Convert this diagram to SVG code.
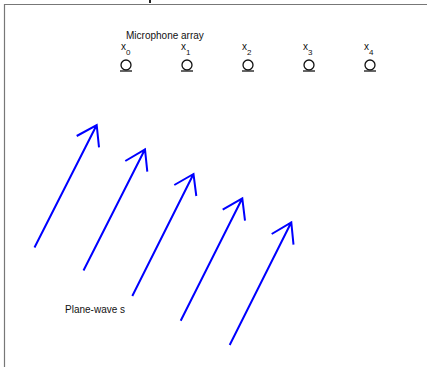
<svg xmlns="http://www.w3.org/2000/svg" width="427" height="367" viewBox="0 0 427 367">
<style>
text{font-family:"Liberation Sans",Arial,sans-serif;fill:#111}
.t{font-size:10px}
.s{font-size:8px}
.mic circle{fill:none;stroke:#111;stroke-width:1.3}
.mic line{stroke:#333;stroke-width:1.5}
.w{stroke:#0000ff;stroke-width:2;fill:none;stroke-linecap:butt}
.frame{stroke:#777;stroke-width:1.2;fill:none}
</style>
<rect width="427" height="367" fill="#fff"/>
<g id="frame">
<path class="frame" d="M4.5,367 V4.5 H427"/>
<line x1="150" y1="0" x2="150" y2="3" stroke="#222" stroke-width="2"/>
</g>
<g id="title"><text class="t" x="126" y="39">Microphone array</text></g>
<g id="mic0" class="mic"><text class="t" x="121" y="50">x</text><text class="s" x="126" y="55">0</text><circle cx="126" cy="65" r="5"/><line x1="120" y1="71" x2="132" y2="71"/></g>
<g id="mic1" class="mic"><text class="t" x="181" y="50">x</text><text class="s" x="186" y="55">1</text><circle cx="187" cy="65" r="5"/><line x1="181" y1="71" x2="193" y2="71"/></g>
<g id="mic2" class="mic"><text class="t" x="242" y="50">x</text><text class="s" x="247" y="55">2</text><circle cx="248" cy="65" r="5"/><line x1="242" y1="71" x2="254" y2="71"/></g>
<g id="mic3" class="mic"><text class="t" x="303" y="50">x</text><text class="s" x="308" y="55">3</text><circle cx="309" cy="65" r="5"/><line x1="303" y1="71" x2="315" y2="71"/></g>
<g id="mic4" class="mic"><text class="t" x="364" y="50">x</text><text class="s" x="369" y="55">4</text><circle cx="370" cy="65" r="5"/><line x1="364" y1="71" x2="376" y2="71"/></g>
<g id="label"><text class="t" x="65" y="313">Plane-wave s</text></g>
<g id="connectors">
<g class="w">
<path d="M34.5,247.5 L96.7,125 M76.7,136 L96.7,125 L99,147.3"/>
<path d="M83.5,270.5 L145,149.3 M125.3,161 L145,149.3 L147.3,171.7"/>
<path d="M132.3,296 L193.5,174 M174.3,185 L193.5,174 L196.3,196"/>
<path d="M180.7,320.7 L242.3,198.3 M222.7,209.7 L242.3,198.3 L245,220.7"/>
<path d="M229.7,345 L291.3,222.3 M271.7,234 L291.3,222.3 L293.5,244.7"/>
</g>
</g>
</svg>
